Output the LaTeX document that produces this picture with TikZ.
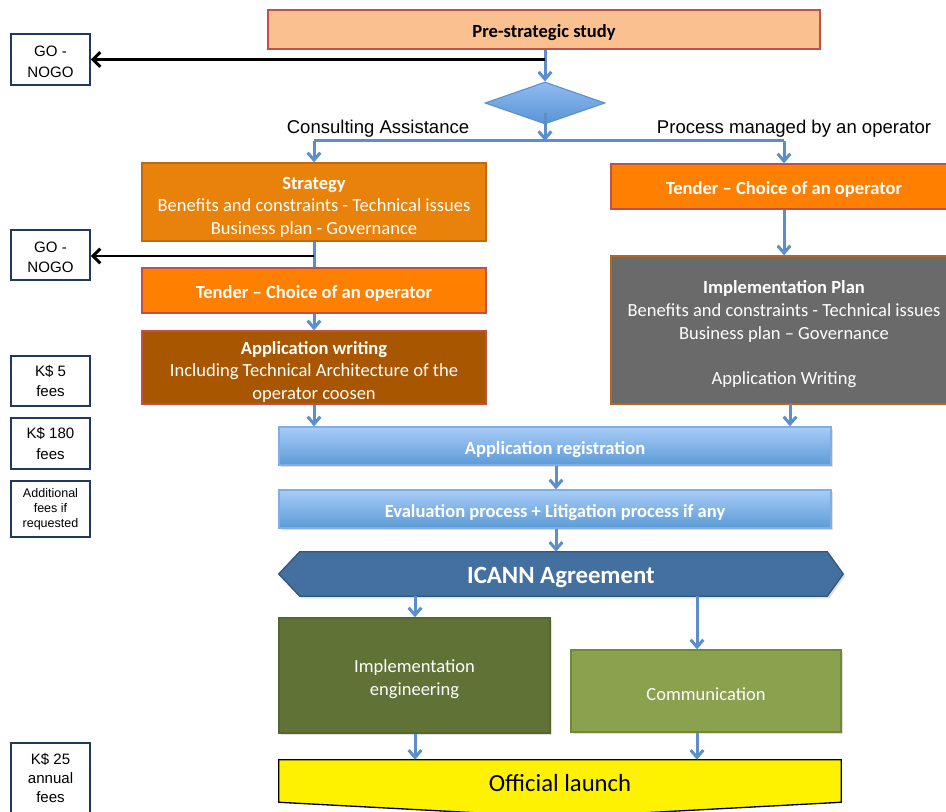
\documentclass[tikz,border=0pt]{standalone}
\usepackage{fontspec}
\setmainfont{Carlito}
\newfontfamily\arialf{Liberation Sans}
\usetikzlibrary{arrows.meta,shapes.geometric,calc,shadows,backgrounds}
\definecolor{peach}{HTML}{FAC090}
\definecolor{redbrd}{HTML}{C0504D}
\definecolor{stratfill}{HTML}{E8820A}
\definecolor{stratbrd}{HTML}{BF6A12}
\definecolor{tendfill}{HTML}{FF7F00}
\definecolor{appwfill}{HTML}{A95600}
\definecolor{implfill}{HTML}{6A6A6A}
\definecolor{implbrd}{HTML}{B5671E}
\definecolor{bluetop}{HTML}{A8CCF8}
\definecolor{bluebot}{HTML}{5C9BD6}
\definecolor{bluebrd}{HTML}{7FAEE3}
\definecolor{icannfill}{HTML}{44709F}
\definecolor{icannbrd}{HTML}{2F5783}
\definecolor{impefill}{HTML}{617236}
\definecolor{impebrd}{HTML}{56662F}
\definecolor{commfill}{HTML}{8AA24D}
\definecolor{commbrd}{HTML}{71883A}
\definecolor{navy}{HTML}{1F3A5F}
\definecolor{arrowblue}{HTML}{5A8FCB}
\definecolor{diatop}{HTML}{8FBCF0}
\definecolor{diabot}{HTML}{5A93D6}
\newcommand\tstrut[1]{\rule{0pt}{#1em}}
\begin{document}
\begin{tikzpicture}[x=0.75pt,y=-0.75pt,
  box/.style={draw, line width=1pt, inner sep=0pt, align=center, text=white,
    font=\fontsize{13.9}{16.9}\selectfont, execute at begin node={\rule{0pt}{1.07em}}},
  gobox/.style={draw=navy, line width=1.3pt, fill=white, align=center, inner sep=0pt,
    minimum width=79*0.75pt, font=\arialf\fontsize{11.3}{15.5}\selectfont},
  lbl/.style={inner sep=0pt, font=\arialf\fontsize{13.9}{16}\selectfont},
  barrow/.style={draw=arrowblue, line width=2.25pt, -{Straight Barb[length=5.5pt,width=9.5pt]}},
  bline/.style={draw=arrowblue, line width=2.25pt},
  karrow/.style={draw=black, line width=2.2pt, -{Straight Barb[length=5.5pt,width=11pt]}},
  bluebox/.style={box, draw=bluebrd, top color=bluetop, bottom color=bluebot,
    drop shadow={opacity=0.25, shadow xshift=1.5pt, shadow yshift=-1.5pt}},
  shade/.style={drop shadow={opacity=0.25, shadow xshift=1.5pt, shadow yshift=-1.5pt}}
]
\useasboundingbox (0,0) rectangle (946,812);

% top
\node[box, fill=peach, draw=redbrd, text=black, minimum width=552*0.75pt, minimum height=39*0.75pt]
  (pre) at (544,29.5) {\bfseries Pre-strategic study};
\node[gobox, minimum height=51*0.75pt] (gn1) at (50.5,59.5) {\tstrut{1.0}GO -\\NOGO};
\node[diamond, draw=arrowblue, line width=0.8pt, top color=diatop, bottom color=diabot,
  inner sep=0pt, minimum width=120*0.75pt, minimum height=42*0.75pt] (dia) at (545,103) {};
\node[lbl] (lca) at (378,128.5) {Consulting Assistance};
\node[lbl] (lpm) at (794,128.5) {Process managed by an operator};

% left column
\node[box, fill=stratfill, draw=stratbrd, minimum width=344*0.75pt, minimum height=78*0.75pt]
  (strat) at (314,202) {\tstrut{1.2}\textbf{Strategy}\\Benefits and constraints - Technical issues\\Business plan - Governance};
\node[gobox, minimum height=50*0.75pt] (gn2) at (50.5,255) {\tstrut{1.0}GO -\\NOGO};
\node[box, fill=tendfill, draw=redbrd, minimum width=344*0.75pt, minimum height=45*0.75pt]
  (tendL) at (314,290.5) {\bfseries Tender -- Choice of an operator};
\node[box, fill=appwfill, draw=redbrd, minimum width=344*0.75pt, minimum height=73*0.75pt]
  (appw) at (314,367.5) {\tstrut{1.15}\textbf{Application writing}\\Including Technical Architecture of the\\operator coosen};

% right column
\node[box, fill=tendfill, draw=redbrd, minimum width=346*0.75pt, minimum height=45*0.75pt]
  (tendR) at (784,186.5) {\bfseries Tender -- Choice of an operator};
\node[box, fill=implfill, draw=implbrd, minimum width=346*0.75pt, minimum height=148*0.75pt]
  (impl) at (784,330) {\tstrut{1.15}\textbf{Implementation Plan}\\Benefits and constraints - Technical issues\\Business plan -- Governance\\[16.9pt]Application Writing};

% fee boxes
\node[gobox, minimum height=50*0.75pt] (k5) at (50.5,381) {K\$ 5\\fees};
\node[gobox, minimum height=51*0.75pt] (k180) at (50.5,443.5) {K\$ 180\\fees};
\node[gobox, minimum height=56*0.75pt, font=\arialf\fontsize{9.4}{11.2}\selectfont] (addl) at (50.5,509) {Additional\\fees if\\requested};
\node[gobox, minimum height=70*0.75pt, font=\arialf\fontsize{11.3}{14.6}\selectfont] (k25) at (50.5,778) {K\$ 25\\annual\\fees};

% central blue
\node[bluebox, minimum width=552*0.75pt, minimum height=38*0.75pt] (reg) at (555,446) {\bfseries Application registration};
\node[bluebox, minimum width=552*0.75pt, minimum height=38*0.75pt] (eval) at (555,509) {\bfseries Evaluation process + Litigation process if any};

% ICANN
\node[inner sep=0pt, minimum width=564*0.75pt, minimum height=44*0.75pt, text=white,
  font=\fontsize{18.6}{20}\selectfont\bfseries, execute at begin node={\rule{0pt}{0.95em}}] (icann) at (561,574) {ICANN Agreement};
\begin{pgfonlayer}{background}
\draw[fill=icannfill, draw=icannbrd, line width=1pt, shade]
  (icann.west) -- ($(icann.north west)+(21,0)$) -- ($(icann.north east)+(-16,0)$)
  -- (icann.east) -- ($(icann.south east)+(-16,0)$) -- ($(icann.south west)+(21,0)$) -- cycle;
\end{pgfonlayer}

% green boxes
\node[box, fill=impefill, draw=impebrd, shade, minimum width=271*0.75pt, minimum height=115*0.75pt]
  (impe) at (414.5,675.5) {\tstrut{1.1}Implementation\\engineering};
\node[box, fill=commfill, draw=commbrd, shade, minimum width=270*0.75pt, minimum height=82*0.75pt]
  (comm) at (706,691) {Communication};

% launch
\node[inner sep=0pt, minimum width=562*0.75pt, minimum height=42*0.75pt,
  font=\fontsize{18.5}{20}\selectfont, execute at begin node={\rule{0pt}{0.85em}}] (launch) at (560,781) {Official launch};
\begin{pgfonlayer}{background}
\draw[fill=yellow, draw=black, line width=1pt]
  (launch.north west) -- (launch.north east) -- (launch.south east)
  -- ($(launch.south)+(0,15)$) -- (launch.south west) -- cycle;
\end{pgfonlayer}

% connectors
\draw[barrow] (dia.north |- pre.south) -- (dia.north);
\coordinate (c1) at (545,59.5);
\draw[karrow] (c1) -- (c1 -| gn1.east);
\coordinate (b0) at (545,141);
\coordinate (bL) at (314,141);
\coordinate (bR) at (784,141);
\draw[barrow] ($(dia.center)+(0,10)$) -- (b0);
\draw[bline] (bL) -- (bR);
\draw[barrow] (bL) -- (strat.north -| bL);
\draw[barrow] (bR) -- (tendR.north -| bR);
\draw[bline] (strat.south) -- (tendL.north);
\coordinate (c2) at (314,256);
\draw[karrow] (c2) -- (c2 -| gn2.east);
\draw[barrow] (tendL.south) -- (appw.north);
\draw[barrow] (tendR.south) -- (impl.north);
\draw[barrow] (appw.south) -- (reg.north -| appw.south);
\coordinate (r2) at (790,404);
\draw[barrow] (r2) -- (reg.north -| r2);
\coordinate (m) at (556,465);
\draw[barrow] (reg.south -| m) -- (eval.north -| m);
\draw[barrow] (eval.south -| m) -- (icann.north -| m);
\coordinate (g1) at (415,596);
\coordinate (g2) at (697,596);
\draw[barrow] (icann.south -| g1) -- (impe.north -| g1);
\draw[barrow] (icann.south -| g2) -- (comm.north -| g2);
\draw[barrow] (impe.south -| g1) -- (launch.north -| g1);
\draw[barrow] (comm.south -| g2) -- (launch.north -| g2);
\end{tikzpicture}
\end{document}
